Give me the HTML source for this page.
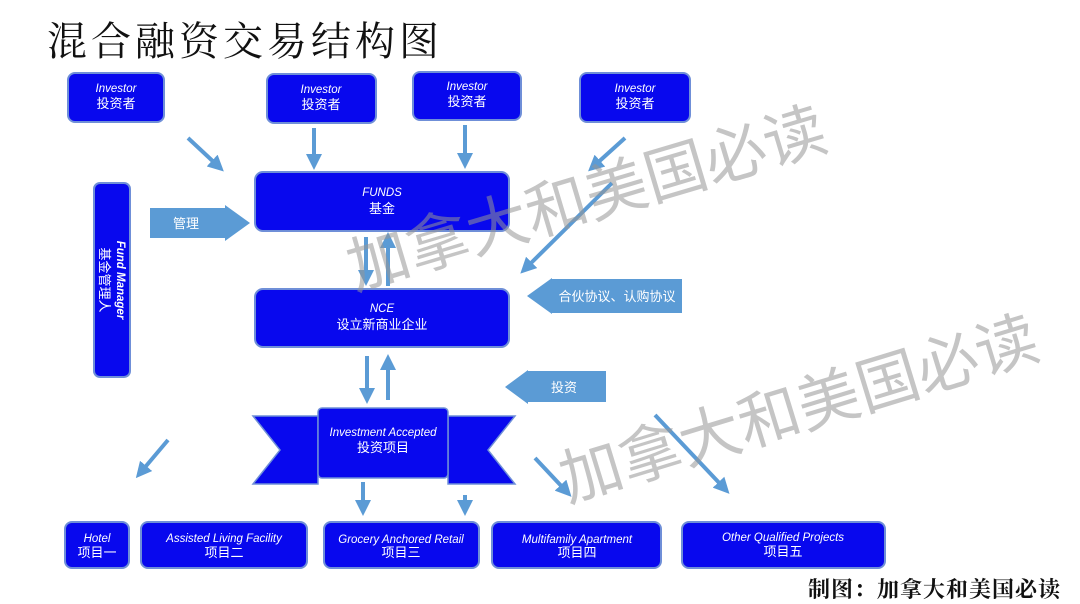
<!DOCTYPE html>
<html><head><meta charset="utf-8"><style>
html,body{margin:0;padding:0;background:#fff;}
svg{display:block;}
.en{font-family:"Liberation Sans",sans-serif;font-style:italic;font-size:11.5px;fill:#fff;}
.cn{font-family:"Liberation Sans","Noto Sans CJK SC",sans-serif;font-size:13px;fill:#fff;}
</style></head><body>
<svg width="1080" height="604" viewBox="0 0 1080 604" xmlns="http://www.w3.org/2000/svg">
<defs>
<marker id="ah" markerWidth="4" markerHeight="4" refX="2" refY="2" orient="auto" markerUnits="strokeWidth">
<path d="M0,0 L4,2 L0,4 z" fill="#5b9bd5"/></marker>
</defs>
<text x="47" y="55" font-family="'Noto Serif CJK SC',serif" font-size="40" fill="#111" letter-spacing="4">混合融资交易结构图</text>

<g fill="#0808ee" stroke="#6f8fd8" stroke-width="2">
<rect x="68" y="73" width="96" height="49" rx="7"/>
<rect x="267" y="74" width="109" height="49" rx="7"/>
<rect x="413" y="72" width="108" height="48" rx="7"/>
<rect x="580" y="73" width="110" height="49" rx="7"/>
<rect x="255" y="172" width="254" height="59" rx="8"/>
<rect x="255" y="289" width="254" height="58" rx="8"/>
<rect x="94" y="183" width="36" height="194" rx="6"/>
<rect x="65" y="522" width="64" height="46" rx="7"/>
<rect x="141" y="522" width="166" height="46" rx="7"/>
<rect x="324" y="522" width="155" height="46" rx="7"/>
<rect x="492" y="522" width="169" height="46" rx="7"/>
<rect x="682" y="522" width="203" height="46" rx="7"/>
</g>

<g fill="#0808ee" stroke="#6f8fd8" stroke-width="1.5">
<polygon points="253,416 318,416 318,484 253,484 280,450"/>
<polygon points="448,416 515,416 488,450 515,484 448,484"/>
<rect x="318" y="408" width="130" height="70" rx="4"/>
</g>

<g text-anchor="middle">
<text class="en" x="116" y="92">Investor</text><text class="cn" x="116" y="108">投资者</text>
<text class="en" x="321" y="93">Investor</text><text class="cn" x="321" y="109">投资者</text>
<text class="en" x="467" y="90">Investor</text><text class="cn" x="467" y="106">投资者</text>
<text class="en" x="635" y="92">Investor</text><text class="cn" x="635" y="108">投资者</text>
<text class="en" x="382" y="196">FUNDS</text><text class="cn" x="382" y="213">基金</text>
<text class="en" x="382" y="312">NCE</text><text class="cn" x="382" y="329">设立新商业企业</text>
<text class="en" x="383" y="436">Investment Accepted</text><text class="cn" x="383" y="452">投资项目</text>
<text class="en" x="97" y="542">Hotel</text><text class="cn" x="97" y="557">项目一</text>
<text class="en" x="224" y="542">Assisted Living Facility</text><text class="cn" x="224" y="557">项目二</text>
<text class="en" x="401" y="543">Grocery Anchored Retail</text><text class="cn" x="401" y="557">项目三</text>
<text class="en" x="577" y="543">Multifamily Apartment</text><text class="cn" x="577" y="557">项目四</text>
<text class="en" x="783" y="541">Other Qualified Projects</text><text class="cn" x="783" y="556">项目五</text>
</g>
<g transform="translate(112,280) rotate(90)" text-anchor="middle">
<text class="en" x="0" y="-5" font-weight="bold">Fund Manager</text>
<text class="cn" x="0" y="12">基金管理人</text>
</g>

<g fill="#5b9bd5">
<polygon points="150,208 225,208 225,205 250,223 225,241 225,238 150,238"/>
<polygon points="527,296 552,278 552,279 682,279 682,313 552,313 552,314"/>
<polygon points="505,387 528,370 528,371 606,371 606,402 528,402 528,404"/>
</g>
<g text-anchor="middle">
<text class="cn" x="186" y="228">管理</text>
<text class="cn" x="617" y="301">合伙协议、认购协议</text>
<text class="cn" x="564" y="392">投资</text>
</g>

<g stroke="#5b9bd5" stroke-width="4" fill="none" marker-end="url(#ah)">
<line x1="188" y1="138" x2="218" y2="166"/>
<line x1="314" y1="128" x2="314" y2="162"/>
<line x1="465" y1="125" x2="465" y2="161"/>
<line x1="625" y1="138" x2="594" y2="166"/>
<line x1="612" y1="183" x2="526" y2="268"/>
<line x1="366" y1="237" x2="366" y2="278"/>
<line x1="388" y1="286" x2="388" y2="240"/>
<line x1="367" y1="356" x2="367" y2="396"/>
<line x1="388" y1="400" x2="388" y2="362"/>
<line x1="363" y1="482" x2="363" y2="508"/>
<line x1="465" y1="495" x2="465" y2="508"/>
<line x1="168" y1="440" x2="141" y2="472"/>
<line x1="535" y1="458" x2="566" y2="491"/>
<line x1="655" y1="415" x2="724" y2="488"/>
</g>

<g font-family="'Noto Sans CJK SC',sans-serif" font-size="62" fill="rgba(150,150,150,0.55)">
<text transform="translate(355,290) rotate(-16.6)">加拿大和美国必读</text>
<text transform="translate(568,502) rotate(-17)">加拿大和美国必读</text>
</g>

<text x="808" y="597" font-family="'Noto Serif CJK SC',serif" font-weight="bold" font-size="22" fill="#111" letter-spacing="1">制图：加拿大和美国必读</text>
</svg>
</body></html>
